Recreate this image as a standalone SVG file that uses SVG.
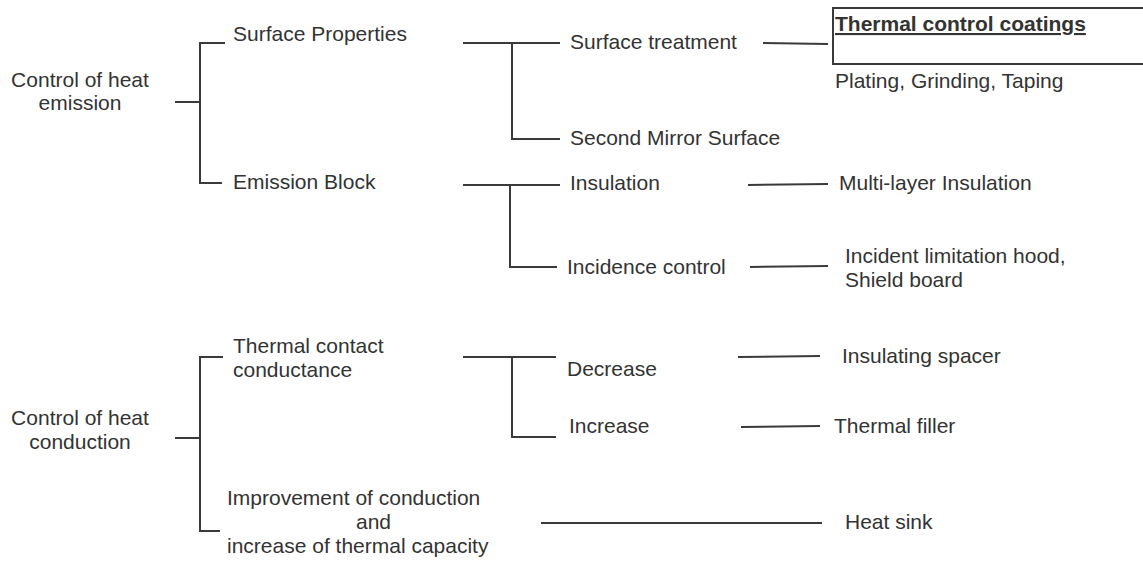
<svg xmlns="http://www.w3.org/2000/svg" width="1143" height="561" viewBox="0 0 1143 561">
<style>
text{font-family:"Liberation Sans",Arial,sans-serif;font-size:21px;fill:#333}
.b{font-weight:bold;text-decoration:underline}
.m{text-anchor:middle}
#connectors line,#connectors polyline{stroke:#3a3a3a;stroke-width:2;fill:none}
.box{fill:none;stroke:#3a3a3a;stroke-width:2}
</style>
<rect width="1143" height="561" fill="#fff"/>
<g id="connectors">
<polyline points="175,102 200,102"/>
<polyline points="225,43 200,43 200,183 222,183"/>
<line x1="463" y1="43" x2="560" y2="43"/>
<polyline points="512,43 512,139 560,139"/>
<line x1="763" y1="43" x2="828" y2="44"/>
<line x1="463" y1="185" x2="560" y2="185"/>
<polyline points="510,185 510,267 557,267"/>
<line x1="748" y1="185" x2="828" y2="184"/>
<line x1="750" y1="267" x2="828" y2="266"/>
<polyline points="175,438 200,438"/>
<polyline points="223,357 200,357 200,531 220,531"/>
<line x1="463" y1="357" x2="556" y2="357"/>
<polyline points="512,357 512,437 556,437"/>
<line x1="738" y1="357" x2="820" y2="356"/>
<line x1="741" y1="427" x2="820" y2="426"/>
<line x1="541" y1="523" x2="822" y2="523"/>
</g>
<g id="n-emission"><text class="m" x="80" y="87">Control of heat</text><text class="m" x="80" y="110">emission</text></g>
<g id="n-surface-properties"><text x="233" y="41">Surface Properties</text></g>
<g id="n-emission-block"><text x="233" y="189">Emission Block</text></g>
<g id="n-surface-treatment"><text x="570" y="49">Surface treatment</text></g>
<g id="n-second-mirror"><text x="570" y="145">Second Mirror Surface</text></g>
<g id="n-coatings"><rect class="box" x="833" y="8" width="330" height="56"/><text class="b" x="835" y="31">Thermal control coatings</text><text x="835" y="88">Plating, Grinding, Taping</text></g>
<g id="n-insulation"><text x="570" y="190">Insulation</text></g>
<g id="n-incidence"><text x="567" y="274">Incidence control</text></g>
<g id="n-mli"><text x="839" y="190">Multi-layer Insulation</text></g>
<g id="n-hood"><text x="845" y="263">Incident limitation hood,</text><text x="845" y="287">Shield board</text></g>
<g id="n-conduction"><text class="m" x="80" y="425">Control of heat</text><text class="m" x="80" y="449">conduction</text></g>
<g id="n-contact"><text x="233" y="353">Thermal contact</text><text x="233" y="377">conductance</text></g>
<g id="n-improve"><text x="227" y="505">Improvement of conduction</text><text x="356" y="529">and</text><text x="227" y="553">increase of thermal capacity</text></g>
<g id="n-decrease"><text x="567" y="376">Decrease</text></g>
<g id="n-increase"><text x="569" y="433">Increase</text></g>
<g id="n-spacer"><text x="842" y="363">Insulating spacer</text></g>
<g id="n-filler"><text x="834" y="433">Thermal filler</text></g>
<g id="n-heatsink"><text x="845" y="529">Heat sink</text></g>
</svg>
